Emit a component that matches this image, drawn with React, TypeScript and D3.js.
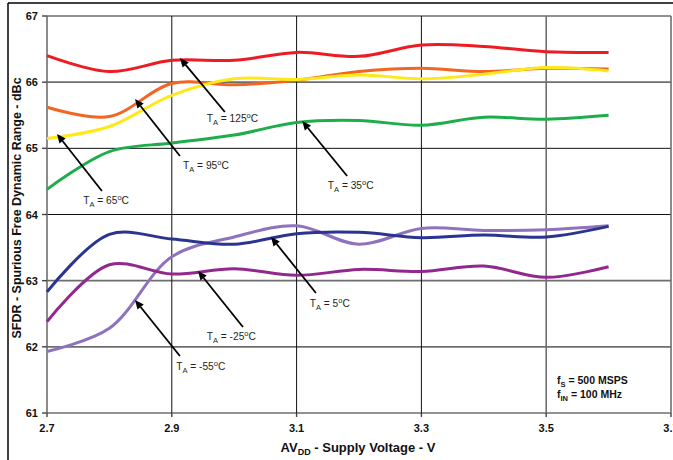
import React from "react";
import * as d3 from "d3";

const voltages = [2.7, 2.8, 2.9, 3.0, 3.1, 3.2, 3.3, 3.4, 3.5, 3.6];
const sfdr125 = [66.4, 66.16, 66.33, 66.33, 66.45, 66.39, 66.56, 66.54, 66.46, 66.45];
const sfdr95 = [65.62, 65.48, 65.98, 65.96, 66.03, 66.16, 66.21, 66.16, 66.21, 66.2];
const sfdr65 = [65.15, 65.33, 65.8, 66.05, 66.04, 66.11, 66.05, 66.12, 66.22, 66.17];
const sfdr35 = [64.38, 64.95, 65.08, 65.2, 65.39, 65.42, 65.35, 65.47, 65.44, 65.5];
const sfdr5 = [62.83, 63.7, 63.63, 63.55, 63.71, 63.73, 63.65, 63.69, 63.66, 63.82];
const sfdrM25 = [62.38, 63.24, 63.1, 63.18, 63.08, 63.17, 63.14, 63.22, 63.05, 63.21];
const sfdrM55 = [61.93, 62.28, 63.36, 63.66, 63.83, 63.55, 63.79, 63.76, 63.77, 63.83];

const xTicks = [2.7, 2.9, 3.1, 3.3, 3.5, 3.7];
const yTicks = [61, 62, 63, 64, 65, 66, 67];

const series = [
  { name: "125", values: sfdr125, color: "#ED1C24" },
  { name: "95", values: sfdr95, color: "#F26522" },
  { name: "65", values: sfdr65, color: "#FFE81A" },
  { name: "35", values: sfdr35, color: "#1DAE4B" },
  { name: "-55", values: sfdrM55, color: "#8E72BE" },
  { name: "-25", values: sfdrM25, color: "#92278F" },
  { name: "5", values: sfdr5, color: "#2B3491" },
];

// annotations: temperature, arrow tip (data), arrow tail (data), text left/baseline (data)
const annTemps = ["125", "95", "65", "35", "5", "-25", "-55"];
const annTip = [
  [2.913, 66.365], [2.841, 65.746], [2.716, 65.217], [3.109, 65.413],
  [3.059, 63.66], [2.942, 63.146], [2.841, 62.708],
];
const annTail = [
  [2.985, 65.549], [2.913, 64.884], [2.788, 64.355], [3.181, 64.582],
  [3.131, 62.814], [3.014, 62.3], [2.913, 61.862],
];
const annText = [
  [2.956, 65.398], [2.918, 64.688], [2.758, 64.159], [3.15, 64.386],
  [3.121, 62.602], [2.956, 62.104], [2.907, 61.65],
];

const W = 673;
const H = 460;
const x = d3.scaleLinear().domain([2.7, 3.7]).range([47, 671]);
const y = d3.scaleLinear().domain([61, 67]).range([413, 16]);

const font = "Arial, 'Liberation Sans', Helvetica, sans-serif";

export default function App() {
  const line = d3
    .line<number>()
    .x((_, i) => x(voltages[i]))
    .y((d) => y(d))
    .curve(d3.curveCatmullRom.alpha(0.5));

  const darkH = new Set([64, 65]);
  const darkV = new Set([2.9, 3.1, 3.3]);

  return (
    <svg
      width={W}
      height={H}
      style={{ position: "absolute", left: 0, top: 0, background: "#fff" }}
      fontFamily={font}
    >
      <rect x={0} y={0} width={W} height={H} fill="#fff" />
      {/* outer frame */}
      <line x1={8} y1={3} x2={W} y2={3} stroke="#000" strokeWidth={1.5} />
      <line x1={8} y1={3} x2={8} y2={H} stroke="#000" strokeWidth={1.5} />

      {/* grid */}
      {yTicks.map((t) => (
        <line
          key={"h" + t}
          x1={x(2.7)}
          x2={x(3.7)}
          y1={y(t)}
          y2={y(t)}
          stroke={darkH.has(t) ? "#111" : "#6e6e6e"}
          strokeWidth={darkH.has(t) ? 1 : 1.6}
        />
      ))}
      {xTicks.map((t) => (
        <line
          key={"v" + t}
          x1={x(t)}
          x2={x(t)}
          y1={y(67)}
          y2={y(61)}
          stroke={darkV.has(t) ? "#111" : "#6e6e6e"}
          strokeWidth={darkV.has(t) ? 1 : 1.6}
        />
      ))}
      {/* y tick marks */}
      {yTicks.map((t) => (
        <line key={"yt" + t} x1={42} x2={x(2.7)} y1={y(t)} y2={y(t)} stroke="#444" strokeWidth={1.4} />
      ))}
      {xTicks.map((t) => (
        <line key={"xt" + t} x1={x(t)} x2={x(t)} y1={y(61)} y2={y(61) + 4} stroke="#444" strokeWidth={1.4} />
      ))}

      {/* tick labels */}
      {yTicks.map((t) => (
        <text key={"yl" + t} x={38} y={y(t) + 4} textAnchor="end" fontSize={11} fontWeight="bold" fill="#111">
          {t}
        </text>
      ))}
      {xTicks.map((t) => (
        <text key={"xl" + t} x={x(t)} y={432} textAnchor="middle" fontSize={11} fontWeight="bold" fill="#111">
          {t.toFixed(1)}
        </text>
      ))}

      {/* axis titles */}
      <text x={358} y={452} textAnchor="middle" fontSize={13} fontWeight="bold" fill="#111">
        AV<tspan fontSize={9} dy={3}>DD</tspan>
        <tspan dy={-3}> - Supply Voltage - V</tspan>
      </text>
      <text
        transform={`translate(21, ${208}) rotate(-90)`}
        textAnchor="middle"
        fontSize={12.5}
        fontWeight="bold"
        fill="#111"
      >
        SFDR - Spurious Free Dynamic Range - dBc
      </text>

      {/* series */}
      {series.map((s) => (
        <path key={s.name} d={line(s.values) || ""} fill="none" stroke={s.color} strokeWidth={3} />
      ))}

      {/* annotations */}
      {annTemps.map((t, i) => {
        const tx = x(annTip[i][0]);
        const ty = y(annTip[i][1]);
        const sx = x(annTail[i][0]);
        const sy = y(annTail[i][1]);
        const ang = Math.atan2(ty - sy, tx - sx);
        const len = 9;
        const wid = 4;
        const bx = tx - len * Math.cos(ang);
        const by = ty - len * Math.sin(ang);
        const px = -Math.sin(ang) * wid;
        const py = Math.cos(ang) * wid;
        return (
          <g key={"a" + t}>
            <line x1={sx} y1={sy} x2={bx} y2={by} stroke="#000" strokeWidth={1.8} />
            <polygon points={`${tx},${ty} ${bx + px},${by + py} ${bx - px},${by - py}`} fill="#000" />
            <text x={x(annText[i][0])} y={y(annText[i][1])} fontSize={10.2} fill="#231F20">
              T<tspan fontSize={7.5} dy={3}>A</tspan>
              <tspan dy={-3}> = {t}</tspan>
              <tspan fontSize={7.5} dy={-4}>o</tspan>
              <tspan dy={4}>C</tspan>
            </text>
          </g>
        );
      })}

      {/* conditions */}
      <text x={557} y={384} fontSize={10.5} fontWeight="bold" fill="#111">
        f<tspan fontSize={7.5} dy={3}>S</tspan>
        <tspan dy={-3}> = 500 MSPS</tspan>
      </text>
      <text x={557} y={398} fontSize={10.5} fontWeight="bold" fill="#111">
        f<tspan fontSize={7.5} dy={3}>IN</tspan>
        <tspan dy={-3}> = 100 MHz</tspan>
      </text>
    </svg>
  );
}
